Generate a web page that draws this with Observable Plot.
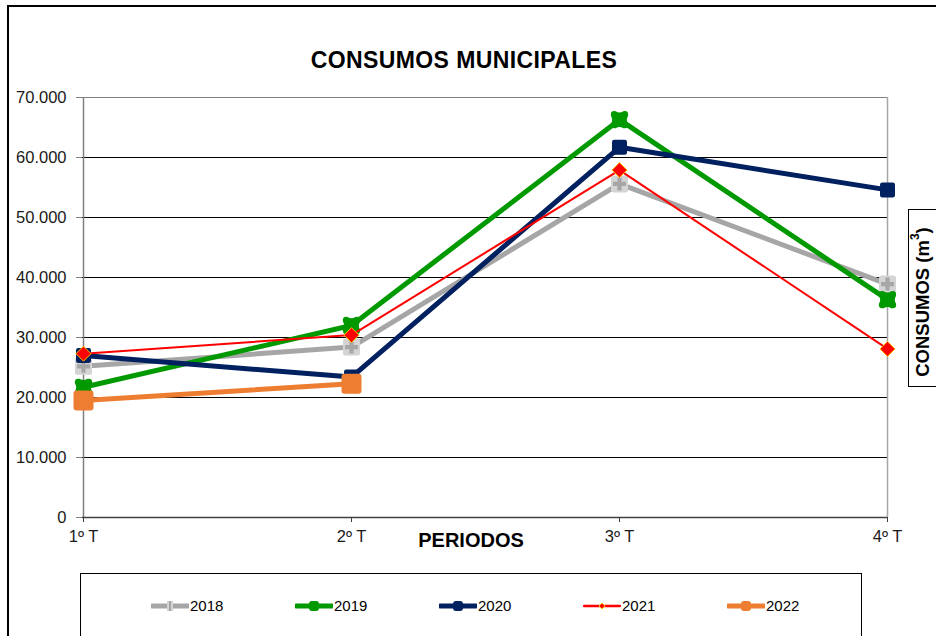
<!DOCTYPE html>
<html>
<head>
<meta charset="utf-8">
<script src="https://cdn.jsdelivr.net/npm/d3@7"></script>
<script src="https://cdn.jsdelivr.net/npm/@observablehq/plot@0.6"></script>
<style>
  html, body { margin: 0; padding: 0; background: #fff; }
  #wrap { position: relative; width: 936px; height: 636px; overflow: hidden; font-family: "Liberation Sans", Arial, sans-serif; }
  #wrap > svg { position: absolute; left: 0; top: 0; }
  .abs { position: absolute; pointer-events: none; }
</style>
</head>
<body>
<div id="wrap"></div>
<script>
// ---- data ----
const periods = ["1º T", "2º T", "3º T", "4º T"];
const years = ["2018", "2019", "2020", "2021", "2022"];
const v2018 = [25200, 28400, 55600, 38900];
const v2019 = [21700, 32000, 66300, 36300];
const v2020 = [27000, 23400, 61700, 54600];
const v2021 = [27300, 30400, 57900, 28100];
const v2022 = [19500, 22300, null, null];
const yTicks = [0, 10000, 20000, 30000, 40000, 50000, 60000, 70000];
const titleText = "CONSUMOS MUNICIPALES";
const xTitle = "PERIODOS";

const seriesValues = {"2018": v2018, "2019": v2019, "2020": v2020, "2021": v2021, "2022": v2022};
const rows = [];
for (const y of years) periods.forEach((p, i) => {
  const v = seriesValues[y][i];
  if (v != null) rows.push({year: y, period: p, value: v});
});

// ---- symbols ----
const roundSquare = {
  draw(ctx, size) {
    const h = Math.sqrt(size / Math.PI), c = h * 0.3;
    ctx.moveTo(-h + c, -h); ctx.lineTo(h - c, -h); ctx.arcTo(h, -h, h, -h + c, c);
    ctx.lineTo(h, h - c); ctx.arcTo(h, h, h - c, h, c);
    ctx.lineTo(-h + c, h); ctx.arcTo(-h, h, -h, h - c, c);
    ctx.lineTo(-h, -h + c); ctx.arcTo(-h, -h, -h + c, -h, c);
    ctx.closePath();
  }
};
const lobed = {
  draw(ctx, size) {
    const h = Math.sqrt(size / Math.PI), k = 0.45 * h, m = 0.72 * h;
    ctx.moveTo(-k, -h);
    ctx.quadraticCurveTo(0, -m, k, -h);
    ctx.quadraticCurveTo(h * 1.12, -h * 1.12, h, -k);
    ctx.quadraticCurveTo(m, 0, h, k);
    ctx.quadraticCurveTo(h * 1.12, h * 1.12, k, h);
    ctx.quadraticCurveTo(0, m, -k, h);
    ctx.quadraticCurveTo(-h * 1.12, h * 1.12, -h, k);
    ctx.quadraticCurveTo(-m, 0, -h, -k);
    ctx.quadraticCurveTo(-h * 1.12, -h * 1.12, -k, -h);
    ctx.closePath();
  }
};
const diamond = {
  draw(ctx, size) {
    const h = Math.sqrt(size / Math.PI);
    ctx.moveTo(0, -h); ctx.lineTo(h, 0); ctx.lineTo(0, h); ctx.lineTo(-h, 0); ctx.closePath();
  }
};
const plusSym = {
  draw(ctx, size) {
    const h = Math.sqrt(size / Math.PI), w = h * 0.32;
    ctx.moveTo(-w, -h); ctx.lineTo(w, -h); ctx.lineTo(w, -w); ctx.lineTo(h, -w); ctx.lineTo(h, w);
    ctx.lineTo(w, w); ctx.lineTo(w, h); ctx.lineTo(-w, h); ctx.lineTo(-w, w); ctx.lineTo(-h, w);
    ctx.lineTo(-h, -w); ctx.lineTo(-w, -w); ctx.closePath();
  }
};

const fmt = d3.formatLocale({decimal: ",", thousands: ".", grouping: [3], currency: ["", ""]}).format(",");

const sel = y => rows.filter(d => d.year === y);

const marks = [
  Plot.ruleY(yTicks.filter(t => t > 0 && t < 70000), {stroke: "#000", strokeWidth: 1}),
  Plot.ruleY([70000], {stroke: "#808080", strokeWidth: 1}),
  Plot.ruleX([periods[3]], {stroke: "#a6a6a6", strokeWidth: 1.5}),
  Plot.ruleX([periods[0]], {stroke: "#808080", strokeWidth: 1.5}),
  Plot.ruleY([0], {stroke: "#404040", strokeWidth: 1.5}),
  Plot.axisY({ticks: yTicks, tickFormat: fmt, tickSize: 6, tickPadding: 10, stroke: "#808080", fill: "#1a1a1a", fontSize: 16.5, label: null}),
  Plot.axisX({tickSize: 5, tickPadding: 8, stroke: "#404040", fill: "#1a1a1a", fontSize: 16.5, label: null}),
  // 2018
  Plot.line(sel("2018"), {x: "period", y: "value", stroke: "#a6a6a6", strokeWidth: 5}),
  Plot.dot(sel("2018"), {x: "period", y: "value", symbol: roundSquare, r: 8.5, fill: "#d4d4d4", stroke: "none"}),
  Plot.dot(sel("2018"), {x: "period", y: "value", symbol: plusSym, r: 6.5, fill: "#a6a6a6", stroke: "none"}),
  // 2019
  Plot.line(sel("2019"), {x: "period", y: "value", stroke: "#009900", strokeWidth: 5}),
  Plot.dot(sel("2019"), {x: "period", y: "value", symbol: lobed, r: 8.5, fill: "#009900", stroke: "none"}),
  // 2020
  Plot.line(sel("2020"), {x: "period", y: "value", stroke: "#002060", strokeWidth: 5}),
  Plot.dot(sel("2020"), {x: "period", y: "value", symbol: roundSquare, r: 7.5, fill: "#002060", stroke: "none"}),
  // 2021
  Plot.line(sel("2021"), {x: "period", y: "value", stroke: "#ff0000", strokeWidth: 2}),
  Plot.dot(sel("2021"), {x: "period", y: "value", symbol: diamond, r: 7.5, fill: "#ff0000", stroke: "#ffc000", strokeWidth: 1}),
  // 2022
  Plot.line(sel("2022"), {x: "period", y: "value", stroke: "#ed7d31", strokeWidth: 5}),
  Plot.dot(sel("2022"), {x: "period", y: "value", symbol: roundSquare, r: 10, fill: "#ed7d31", stroke: "none"})
];

const chart = Plot.plot({
  width: 936,
  height: 636,
  marginLeft: 82,
  marginRight: 49,
  marginTop: 97,
  marginBottom: 119,
  style: {background: "transparent", fontFamily: "'Liberation Sans', Arial, sans-serif", overflow: "visible"},
  x: {type: "point", domain: periods, padding: 0},
  y: {domain: [0, 70000]},
  marks
});

const wrap = document.getElementById("wrap");
wrap.appendChild(chart);

function addDiv(html, css) {
  const d = document.createElement("div");
  d.className = "abs";
  d.style.cssText = css;
  d.innerHTML = html;
  wrap.appendChild(d);
  return d;
}

// outer frame
addDiv("", "left:7px;top:5px;width:1000px;height:1000px;border-left:2px solid #000;border-top:2px solid #000;");
// title
addDiv(titleText, "left:0;width:928px;top:46px;text-align:center;font-weight:bold;font-size:23px;letter-spacing:0.4px;color:#000;line-height:28px;");
// x title
addDiv(xTitle, "left:371px;width:200px;top:527px;text-align:center;font-weight:bold;font-size:20px;color:#000;line-height:26px;");
// y title box
addDiv(`<svg width="40" height="176" style="display:block"><text transform="translate(13,92) rotate(-90)" text-anchor="middle" dominant-baseline="central" font-family="Liberation Sans, Arial, sans-serif" font-weight="bold" font-size="18.5" fill="#000">CONSUMOS (m<tspan font-size="12" dy="-7">3</tspan><tspan dy="7">)</tspan></text></svg>`,
  "left:908px;top:209px;width:40px;height:176px;border:1.5px solid #000;background:#fff;");
// legend box
const legendColors = {"2018": "#a6a6a6", "2019": "#009900", "2020": "#002060", "2021": "#ff0000", "2022": "#ed7d31"};
let lh = "";
years.forEach((y, i) => {
  const x0 = 70 + i * 144;
  const c = legendColors[y];
  let marker = "";
  if (y === "2018") marker = `<rect x="16" y="3" width="6" height="10" fill="#d4d4d4"/><rect x="18" y="3" width="2" height="10" fill="#a6a6a6"/>`;
  else if (y === "2021") marker = `<path d="M19,5 L22,8 L19,11 L16,8 Z" fill="#ff0000" stroke="#ffc000" stroke-width="1"/>`;
  else marker = `<rect x="14" y="3" width="10" height="10" rx="3" fill="${c}"/>`;
  const sw = y === "2021" ? 2.5 : 5;
  lh += `<div style="position:absolute;left:${x0}px;top:24px;height:16px;display:flex;align-items:center;">
    <svg width="38" height="16" style="display:block"><line x1="1" x2="37" y1="8" y2="8" stroke="${c}" stroke-width="${sw}" stroke-linecap="round"/>${marker}</svg>
    <span style="font-size:15px;color:#000;margin-left:1px;line-height:16px;">${y}</span></div>`;
});
addDiv(lh, "left:80px;top:573px;width:780px;height:100px;border:1.5px solid #000;background:#fff;");
</script>
</body>
</html>
